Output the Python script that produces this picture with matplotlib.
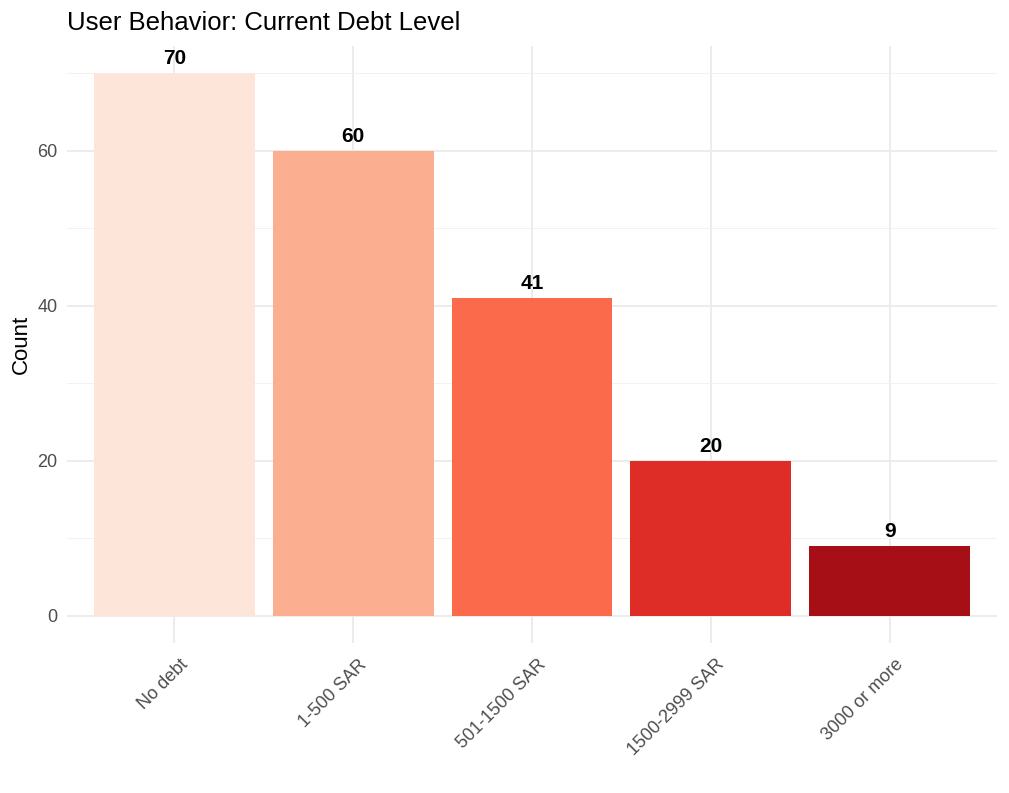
import matplotlib
matplotlib.use("Agg")
import matplotlib.pyplot as plt
import matplotlib.transforms as mtransforms
from matplotlib.ticker import MultipleLocator

categories = ["No debt", "1-500 SAR", "501-1500 SAR", "1500-2999 SAR", "3000 or more"]
counts = [70, 60, 41, 20, 9]
colors = ["#FEE5D9", "#FCAE91", "#FB6A4A", "#DE2D26", "#A50F15"]

plt.rcParams['font.family'] = ['Liberation Sans', 'DejaVu Sans']

fig = plt.figure(figsize=(10.09, 7.93), dpi=100)
W, H = 1009, 793
left, right, top, bottom = 67, 997, 46, 643
ax = fig.add_axes([left / W, 1 - bottom / H, (right - left) / W, (bottom - top) / H])

x = list(range(1, len(categories) + 1))
ax.bar(x, counts, width=0.9, color=colors, zorder=2)
for xi, c in zip(x, counts):
    ax.text(xi, c + 0.6, str(c), ha='center', va='bottom', fontsize=15,
            fontweight='bold', color='black', zorder=3)

ax.set_xlim(0.4, 5.6)
ax.set_ylim(-3.5, 73.5)
ax.set_xticks(x)
ax.set_xticklabels([""] * len(categories))
offset = mtransforms.ScaledTranslation(5 / 100, -13 / 100, fig.dpi_scale_trans)
lbl_trans = ax.get_xaxis_transform() + offset
for xi, cat in zip(x, categories):
    ax.text(xi, 0, cat, transform=lbl_trans, rotation=45, ha='right', va='top',
            rotation_mode='anchor', fontsize=13, color='#4D4D4D', clip_on=False)

ax.yaxis.set_major_locator(MultipleLocator(20))
ax.yaxis.set_minor_locator(MultipleLocator(10))
ax.tick_params(axis='y', labelsize=13, labelcolor='#4D4D4D', length=0, which='both', pad=7)
ax.tick_params(axis='x', length=0, pad=12)
ax.grid(True, which='major', color='#EBEBEB', linewidth=1.3, zorder=0)
ax.grid(True, which='minor', axis='y', color='#F2F2F2', linewidth=0.7, zorder=0)
ax.set_axisbelow(True)
for s in ax.spines.values():
    s.set_visible(False)

ax.set_ylabel("Count", fontsize=16, color='black', labelpad=4)
fig.text(left / W, 1 - 23 / H, "User Behavior: Current Debt Level", fontsize=18.5,
         ha='left', va='center', color='black')

fig.savefig("out.png", dpi=100)
